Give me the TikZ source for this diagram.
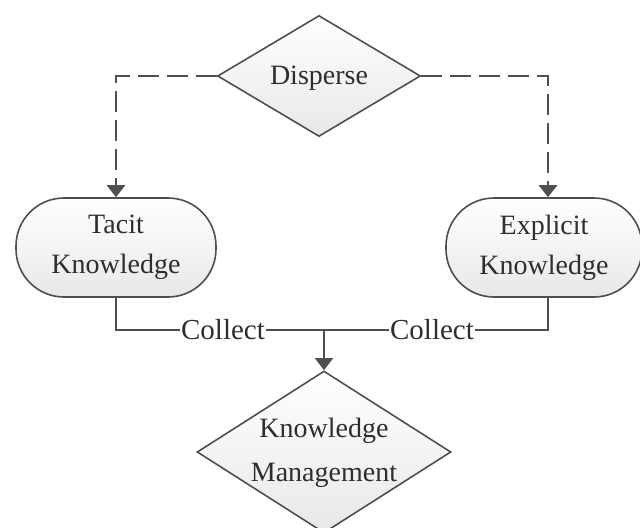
\documentclass[tikz,border=0pt]{standalone}
\usepackage{fontspec}
\setmainfont{Liberation Serif}
\usetikzlibrary{shapes.geometric,arrows.meta,calc}
\definecolor{linegray}{HTML}{4F4F4F}
\definecolor{textgray}{HTML}{2E2E2E}
\begin{document}
\begin{tikzpicture}[x=0.5pt,y=-0.5pt,
  every node/.style={text=textgray, font=\fontsize{14}{20}\selectfont},
  decision/.style={diamond, draw=linegray, line width=0.8pt,
    top color=white, bottom color=black!9, inner sep=0pt},
  knowbox/.style={rectangle, rounded corners=24pt, draw=linegray, line width=0.8pt,
    top color=white, bottom color=black!9,
    minimum width=100pt, minimum height=49.5pt, align=center},
  boxtext/.style={align=center, inner sep=0pt},
  solidline/.style={draw=linegray, line width=0.9pt},
  dashline/.style={draw=linegray, line width=1.2pt, dash pattern=on 10.5pt off 4pt,
    -{Triangle[width=9pt,length=6pt]}},
  arrowline/.style={solidline, -{Triangle[width=9pt,length=6pt]}},
  lbl/.style={fill=white, inner sep=0.6pt, font=\fontsize{14.5}{18}\selectfont},
]
\useasboundingbox (0,0) rectangle (640,528);

% shapes
\node[decision, minimum width=101.5pt, minimum height=60.5pt] (dis) at (319,76) {};
\node[boxtext] (distext) at ($(dis.center)+(0,2)$) {Disperse};

\node[knowbox] (tac) at (116,247.5) {Tacit\\Knowledge};
\node[knowbox, minimum width=98pt] (exp) at (544,247.5) {Explicit\\Knowledge};

\node[decision, minimum width=127pt, minimum height=81pt] (km) at (324,452) {};
\node[boxtext, font=\fontsize{14}{22}\selectfont] (kmtext) at ($(km.center)+(0,1)$) {Knowledge\\Management};

% dispersal paths
\coordinate (rc) at ($(exp.north)+(4,0)$);
\draw[dashline] (dis.west) -| (tac.north);
\draw[dashline] (dis.east) -| (rc);

% collection paths
\draw[solidline] (tac.south) -- ++(0,32) coordinate (bl) -- (bl -| rc) -- (rc |- exp.south);
\coordinate (jm) at (bl -| km.north);
\draw[arrowline] (jm) -- (km.north);

\node[lbl] (c1) at (223,330) {Collect};
\node[lbl] (c2) at (432,330) {Collect};
\end{tikzpicture}
\end{document}
